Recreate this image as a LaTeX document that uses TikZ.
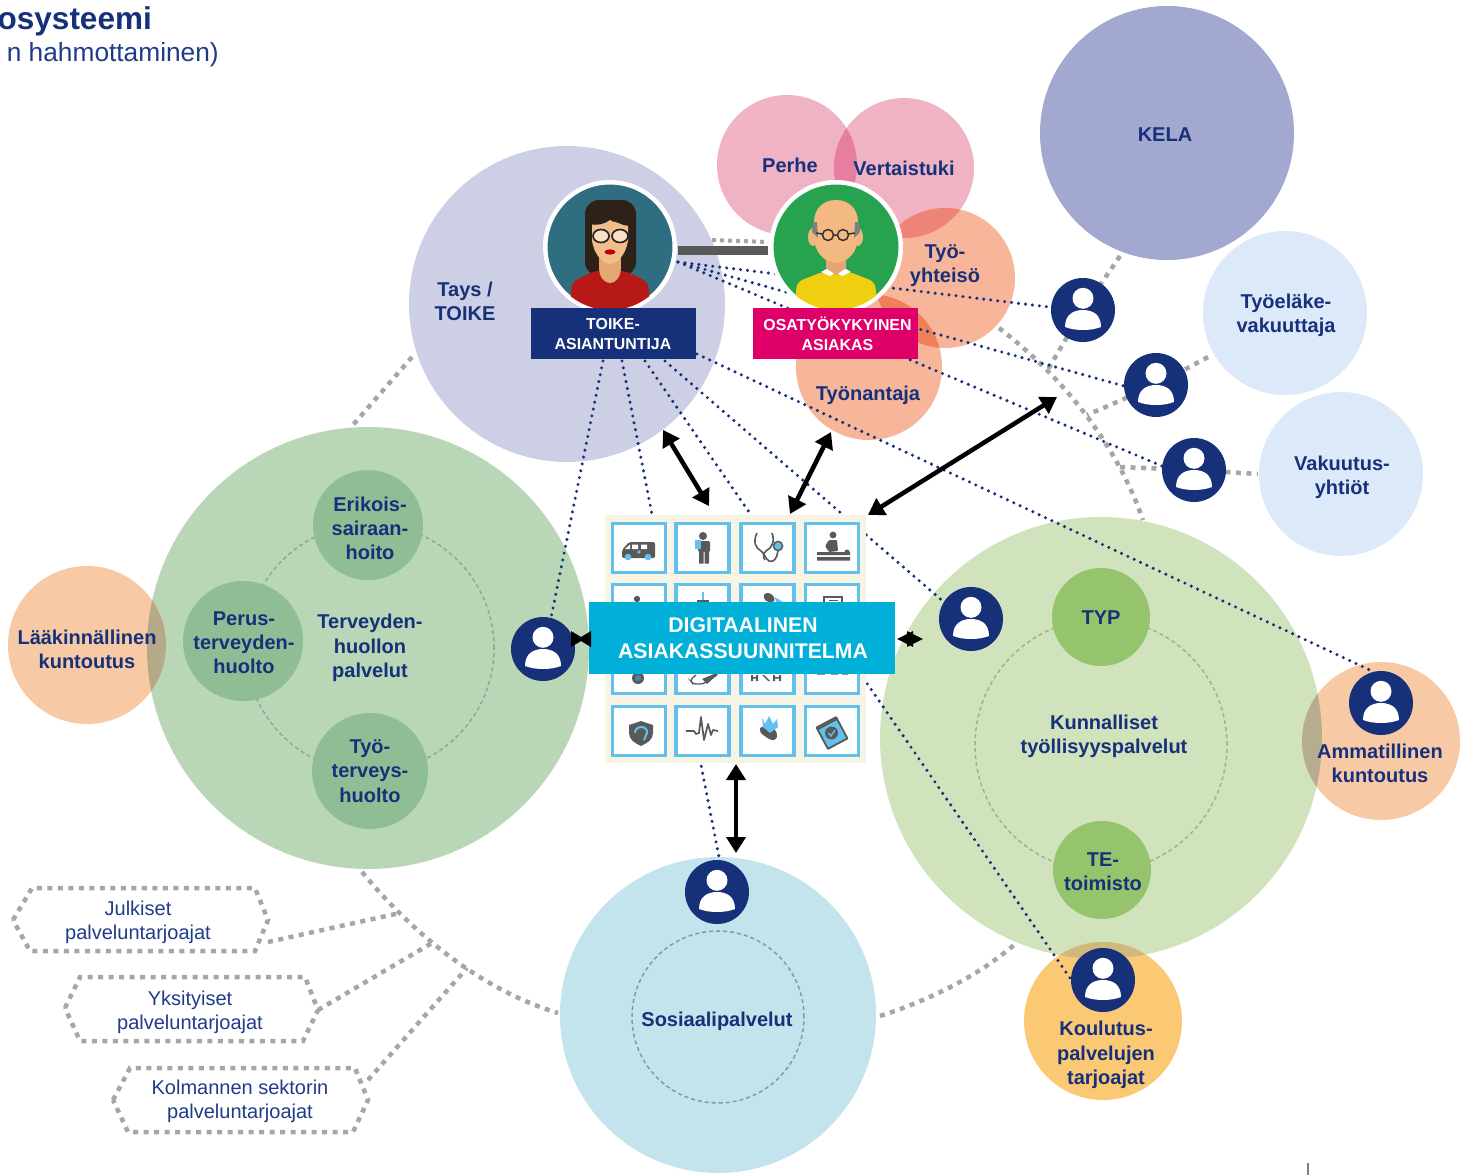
\documentclass[tikz,border=0pt]{standalone}
\usepackage{fontspec}
\setmainfont{Liberation Sans}
\usetikzlibrary{arrows.meta}
\definecolor{navy}{HTML}{16307A}
\definecolor{regblue}{HTML}{1F3C88}
\definecolor{grdot}{HTML}{A6A6A6}
\definecolor{icong}{HTML}{595959}
\definecolor{iconb}{HTML}{62C0EE}
\foreach \h in {A3A8D1,DCE9F8,CDCFE5,F0B3C4,F7B59A,B9D6B6,F8C9A5,D0E3BC,FBC874,C3E3ED,E67E9F,EE8478,F08059,B4AA88,B6AD8E,CFB97C,8FA893,A0B28E,7A9DAD,8FBE94,96C46D,F8F4E4,00B0D8,2F6E80,27A34F,DE0068}{\xglobal\definecolor{c\h}{HTML}{\h}}
\tikzset{
  bub/.style={circle,inner sep=0pt,outer sep=0pt,minimum size=#1},
  lab/.style={text=navy,align=center,inner sep=0pt,font=\fontsize{20}{24.2}\selectfont\bfseries},
  reg/.style={text=regblue,align=center,inner sep=0pt,font=\fontsize{20}{24}\selectfont},
  navline/.style={draw=navy,line width=3.4pt,line cap=round,dash pattern=on 0pt off 7pt},
  greyline/.style={draw=grdot,line width=4.5pt,dash pattern=on 5pt off 5.5pt},
  inring/.style={draw=#1,line width=1.5pt,dash pattern=on 4pt off 3pt},
  dbl/.style={draw=black,line width=4.5pt,{Triangle[width=19pt,length=16pt]}-{Triangle[width=19pt,length=16pt]}},
  iconbox/.style={draw=iconb,line width=3.5pt,fill=white,inner sep=0pt,outer sep=0pt,minimum width=53pt,minimum height=49pt},
  personnode/.style={circle,fill=navy,inner sep=0pt,outer sep=0pt,minimum size=64pt},
  tagbox/.style={inner sep=0pt,outer sep=0pt,minimum width=165pt,minimum height=51pt},
  tagtext/.style={inner sep=0pt,text=white,align=center,font=\fontsize{15.9}{19.6}\selectfont\bfseries},
}
\newcommand{\personicon}[3]{%
  \node[personnode] (#1) at (#2,#3) {};
  \begin{scope}[shift={(#2,#3)}]
    \fill[white] (0,-11.7) circle (10.5pt);
    \fill[white] (-18,17) .. controls (-18,4) and (-9,0) .. (0,0) .. controls (9,0) and (18,4) .. (18,17) .. controls (8,21) and (-8,21) .. (-18,17) -- cycle;
  \end{scope}}
\newcommand{\lensfill}[7]{\begin{scope}\clip (#1,#2) circle (#3pt);\fill[#7] (#4,#5) circle (#6pt);\end{scope}}
\begin{document}
\begin{tikzpicture}[x=1pt,y=-1pt]
\useasboundingbox (0,0) rectangle (1460,1175);
\begin{scope}
\clip (0,0) rectangle (1460,1175);
\node[anchor=base east,inner sep=0pt,text=navy,font=\fontsize{31.5}{33}\selectfont\bfseries] (title1) at (152,29) {osysteemi};
\node[anchor=base east,inner sep=0pt,text=regblue,font=\fontsize{26.3}{28}\selectfont] (title2) at (219,61) {n hahmottaminen)};
\end{scope}

% bubbles
\node[bub=254pt,fill=cA3A8D1] (kela) at (1167,133) {};
\node[bub=164pt,fill=cDCE9F8] (tyoelake) at (1285,313) {};
\node[bub=164pt,fill=cDCE9F8] (vakuutus) at (1341,474) {};
\node[bub=316pt,fill=cCDCFE5] (tays) at (567,304) {};
\node[bub=140pt,fill=cF0B3C4] (perhe) at (787,165) {};
\node[bub=140pt,fill=cF0B3C4] (vertais) at (904,168) {};
\node[bub=140pt,fill=cF7B59A] (tyoyht) at (945,278) {};
\node[bub=146pt,fill=cF7B59A] (tyonant) at (869,367) {};
\node[bub=442pt,fill=cB9D6B6] (lgreen) at (368,648) {};
\node[bub=158pt,fill=cF8C9A5] (laak) at (87,645) {};
\node[bub=442pt,fill=cD0E3BC] (rgreen) at (1101,738) {};
\node[bub=158pt,fill=cF8C9A5] (amm) at (1381,741) {};
\node[bub=158pt,fill=cFBC874] (koul) at (1103,1021) {};
\node[bub=316pt,fill=cC3E3ED] (sos) at (718,1015) {};
% overlaps
\lensfill{787}{165}{70}{904}{168}{70}{fill=cE67E9F}
\lensfill{904}{168}{70}{945}{278}{70}{fill=cEE8478}
\lensfill{945}{278}{70}{869}{367}{73}{fill=cF08059}
\lensfill{368}{648}{221}{87}{645}{79}{fill=cB4AA88}
\lensfill{1101}{738}{221}{1381}{741}{79}{fill=cB6AD8E}
\lensfill{1101}{738}{221}{1103}{1021}{79}{fill=cCFB97C}
% inner rings
\node[bub=248pt,inring=c8FA893] (ringL) at (370,648) {};
\node[bub=252pt,inring=cA0B28E] (ringR) at (1101,745) {};
\node[bub=172pt,inring=c7A9DAD] (ringS) at (718,1017) {};
\node[bub=110pt,fill=c8FBE94] (eri) at (368,525) {};
\node[bub=120pt,fill=c8FBE94] (per) at (243,641) {};
\node[bub=116pt,fill=c8FBE94] (tyt) at (370,771) {};
\node[bub=98pt,fill=c96C46D] (typ) at (1101,617) {};
\node[bub=98pt,fill=c96C46D] (tet) at (1102,870) {};

% free ends of the links at the person icons
\path (1083,310) coordinate (q1) (1156,385) coordinate (q2) (1194,470) coordinate (q3)
      (1053,307.5) coordinate (w1) (1124,386) coordinate (w2) (1162,466) coordinate (w3)
      (945,603) coordinate (w4) (551,618) coordinate (w5) (720,862) coordinate (w6)
      (1374,672) coordinate (w7) (1072,981) coordinate (w8);

% grey links
\coordinate (gT) at (412,357); \coordinate (gL) at (353,425);
\draw[greyline] (gT) -- (gL);
\coordinate (g1) at (362,872); \coordinate (g2) at (400,913); \coordinate (g3) at (432,943); \coordinate (g4) at (467,968); \coordinate (g5) at (558,1013);
\draw[greyline] (g1) .. controls (395,912) and (465,985) .. (g5);
\draw[greyline] (13,920) -- (32,888) -- (255,888) -- (268,920) -- (255,951) -- (30,951) -- cycle;
\draw[greyline] (65,1008) -- (80,977) -- (305,977) -- (318,1010) -- (303,1041) -- (80,1041) -- cycle;
\draw[greyline] (113,1100) -- (130,1068) -- (355,1068) -- (368,1100) -- (353,1132) -- (128,1132) -- cycle;
\node[reg] (hexJ) at (138,922.5) {Julkiset\\palveluntarjoajat};
\node[reg] (hexY) at (190,1012) {Yksityiset\\palveluntarjoajat};
\node[reg] (hexK) at (240,1101) {Kolmannen sektorin\\palveluntarjoajat};
\coordinate (hJ) at (268,942); \coordinate (hY) at (318,1010); \coordinate (hK) at (368,1080);
\draw[greyline] (hJ) -- (g2);
\draw[greyline] (hY) -- (g3);
\draw[greyline] (hK) -- (g4);
\coordinate (gS) at (880,1016); \coordinate (gR) at (1015,944);
\draw[greyline] (gS) .. controls (930,1000) and (980,975) .. (gR);
\coordinate (gy) at (999,328); \coordinate (gb) at (1143,520); \coordinate (ga) at (1047,371); \coordinate (gc) at (1087,415); \coordinate (gd) at (1120,467);
\draw[greyline] (gy) .. controls (1060,375) and (1115,440) .. (gb);
\coordinate (gk) at (1120,256);
\draw[greyline] (gk) -- (q1);
\draw[greyline] (q1) -- (ga);
\draw[greyline] (q2) -- (gc);
\coordinate (gtl) at (1208,357);
\draw[greyline] (gtl) -- (q2);
\draw[greyline] (gd) -- (q3);
\coordinate (gv) at (1258,474);
\draw[greyline] (q3) -- (gv);

% navy dotted links
\coordinate (n0) at (678,262);
\coordinate (n1) at (603,361); \coordinate (n2) at (622,361); \coordinate (n3) at (645,361); \coordinate (n4) at (665,361); \coordinate (n5) at (697,354);
\draw[navline] (n0) -- (w1);
\draw[navline] (n0) -- (w2);
\draw[navline] (n0) -- (w3);
\draw[navline] (n5) -- (w7);
\draw[navline] (n1) -- (w5);
\draw[navline] (n2) -- (w6);
\draw[navline] (n3) -- (w8);
\draw[navline] (n4) -- (w4);

% board
\node[fill=cF8F4E4,inner sep=0pt,outer sep=0pt,minimum width=261pt,minimum height=248pt] (board) at (735.5,639) {};
\foreach \nm/\cx in {a/639,b/702.5,c/767.5,d/832}{
  \foreach \rw/\cy in {1/548,2/609,3/669,4/731}{
    \node[iconbox] (ic\nm\rw) at (\cx,\cy) {};
  }}
% row 1 icons
\fill[icong,rounded corners=2pt] (622,558) -- (622,550) -- (629,542) -- (655,542) -- (655,558) -- cycle;
\fill[white] (632,544.5) rectangle (638,549) (641,544.5) rectangle (647,549) (625,549) -- (630,544.5) -- (630,549) -- cycle;
\fill[iconb] (628,557) circle (3.3pt) (648,557) circle (3.3pt) (639,552) circle (1.8pt);
\fill[icong] (703,536) circle (4pt);
\fill[icong,rounded corners=1.5pt] (698,541) rectangle (710,552);
\fill[icong] (699,551) rectangle (703.5,563.5) (704.5,551) rectangle (709,563.5);
\fill[iconb] (695,540) rectangle (701,549);
\draw[icong,line width=1.6pt] (757,533) .. controls (753,541) and (755,548) .. (761,551) .. controls (764,553) and (765,558) .. (769,561) .. controls (774,563) and (777,558) .. (778,551);
\draw[icong,line width=1.6pt] (772,533) .. controls (775,541) and (772,548) .. (766,551) .. controls (763,553) and (763,558) .. (765,560);
\draw[icong,line width=1.5pt,fill=iconb] (778,546) circle (4.6pt);
\fill[icong] (833,535) circle (3.4pt);
\fill[icong,rounded corners=1pt] (829,540) -- (837,540) -- (838,551) -- (829,552) -- (825,546) -- cycle;
\fill[icong] (817,552) rectangle (850,555) (817,557) rectangle (850,560.5);
\fill[icong] (847,552) circle (2.5pt);
% row 2 icon tops
\fill[icong] (637,599) circle (3.2pt) (634.5,602) rectangle (639.5,606);
\fill[iconb] (701.5,592) rectangle (704,602);
\fill[icong] (697,600) rectangle (709,602.5);
\fill[icong,rounded corners=4pt] (763,593) -- (772,593) -- (776,602) -- (765,602) -- cycle;
\fill[iconb] (775,597) -- (783,602) -- (776,602) -- cycle;
\draw[icong,line width=1.3pt] (824,597) rectangle (842,606);
\draw[icong,line width=1pt] (829,600) -- (838,600);
% row 3 icon bottoms
\fill[icong] (638,678) circle (6pt);
\fill[iconb!70!black] (638,678) circle (3pt);
\draw[icong,line width=1.3pt,rounded corners=3pt] (696,675) -- (690,680) -- (693,684) -- (703,684) -- (717,675);
\fill[icong] (702,679) -- (714,674) -- (718,674) -- (707,684) -- cycle;
\fill[icong] (751,675) rectangle (753,681) (756,675) rectangle (758,681) (762,675) -- (764,675) -- (770,681) -- (768,681) -- cycle (773,675) rectangle (775,681) (779,675) rectangle (781,681) (751,677) rectangle (758,678.5) (773,677) rectangle (781,678.5);
\fill[icong] (817,673) rectangle (825,674.5) (831,673) rectangle (838,674.5) (842,673) rectangle (848,674.5);
% row 4 icons
\fill[icong] (629,725) -- (641,721) -- (653,725) -- (653,733) .. controls (653,740) and (647,743) .. (641,746) .. controls (635,743) and (629,740) .. (629,733) -- cycle;
\draw[iconb,line width=2pt] (635,733) .. controls (635,725) and (648,725) .. (647,733) -- (644,740);
\draw[icong,line width=1.7pt,line join=round] (686,731) -- (694,731) -- (696,734) -- (699,733) -- (701,717) -- (704,740) -- (708,724) -- (711,735) -- (713,730) -- (718,731);
\fill[icong] (760,728) .. controls (770,722) and (778,730) .. (777,737) .. controls (775,742) and (770,740) .. (766,737) .. controls (760,733) and (759,731) .. (760,728) -- cycle;
\fill[iconb] (762,718) -- (765,724) -- (769,716) -- (773,724) -- (777,719) -- (778,727) -- (770,733) -- (763,727) -- cycle;
\fill[icong,rotate around={28:(832,733)},rounded corners=1pt] (820,720) rectangle (844,746);
\fill[iconb,rotate around={28:(832,733)}] (822,724) rectangle (842,744);
\fill[icong] (831.5,733) circle (6.5pt);
\draw[iconb,line width=1.4pt] (828.5,733) -- (831,736) -- (835,730);

% banner
\node[fill=c00B0D8,inner sep=0pt,outer sep=0pt,minimum width=306pt,minimum height=72pt] (banner) at (742,638) {};
\node[inner sep=0pt,text=white,align=center,font=\fontsize{21.2}{26}\selectfont\bfseries] (bannerText) at (743,638.5) {DIGITAALINEN\\ASIAKASSUUNNITELMA};

% persons
\personicon{p1}{1083}{310}
\personicon{p2}{1156}{385}
\personicon{p3}{1194}{470}
\personicon{p4}{971}{619}
\personicon{p5}{543}{649}
\personicon{p6}{717}{892}
\personicon{p7}{1381}{703}
\personicon{p8}{1103}{980}

% thick link between avatars
\coordinate (bar1) at (678,250); \coordinate (bar2) at (768,250); \coordinate (bd1) at (712,240); \coordinate (bd2) at (768,242);
\draw[icong,line width=9pt] (bar1) -- (bar2);
\draw[greyline,line width=4pt,dash pattern=on 4pt off 4pt] (bd1) -- (bd2);

% avatars
\node[bub=129.5pt,fill=c2F6E80,draw=white,line width=4.5pt] (avT) at (610,247) {};
\begin{scope}
\clip (610,247) circle (63pt);
\fill[fill={rgb,255:red,46;green,33;blue,24},rounded corners=14pt] (585,276) -- (585,200) -- (636,200) -- (636,276) -- cycle;
\fill[fill={rgb,255:red,183;green,26;blue,22},rounded corners=6pt] (568,325) -- (572,282) -- (594,271) -- (626,271) -- (648,282) -- (652,325) -- cycle;
\fill[fill={rgb,255:red,228;green,168;blue,114}] (599,240) rectangle (621,270);
\fill[fill={rgb,255:red,228;green,168;blue,114}] (599,268) .. controls (600,288) and (620,288) .. (621,268) -- cycle;
\fill[fill={rgb,255:red,242;green,190;blue,140}] (592,222) -- (592,240) .. controls (594,256) and (604,264) .. (610,264) .. controls (616,264) and (626,256) .. (628,240) -- (628,222) .. controls (620,224) and (612,222) .. (610,220) .. controls (606,224) and (598,224) .. (592,222) -- cycle;
\fill[fill={rgb,255:red,46;green,33;blue,24}] (589,224) .. controls (598,226) and (606,224) .. (611,218) .. controls (616,222) and (622,226) .. (632,226) -- (632,215) -- (589,215) -- cycle;
\draw[fill={rgb,255:red,250;green,225;blue,200},draw=black!85,line width=1.7pt] (601,236) ellipse (8pt and 6.5pt) (620,236) ellipse (8pt and 6.5pt);
\fill[red!75!black] (610,252) ellipse (5.5pt and 2.6pt);
\end{scope}

\node[bub=129.5pt,fill=c27A34F,draw=white,line width=4.5pt] (avA) at (836,247) {};
\begin{scope}
\clip (836,247) circle (63pt);
\fill[fill={rgb,255:red,240;green,206;blue,18},rounded corners=6pt] (793,325) -- (797,282) -- (822,272) -- (850,272) -- (875,282) -- (879,325) -- cycle;
\fill[white] (821,272) -- (832,266) -- (841,266) -- (851,272) -- (842,276) -- (836,272) -- (830,276) -- cycle;
\fill[fill={rgb,255:red,226;green,165;blue,115}] (826,250) -- (846,250) -- (846,268) -- (836,275) -- (826,268) -- cycle;
\fill[fill={rgb,255:red,240;green,180;blue,128}] (813,237) ellipse (5pt and 9pt) (858,237) ellipse (5pt and 9pt);
\fill[fill={rgb,255:red,244;green,184;blue,130}] (814,222) .. controls (814,208) and (824,200) .. (836,200) .. controls (848,200) and (858,208) .. (858,222) -- (858,240) .. controls (856,256) and (844,263) .. (836,263) .. controls (828,263) and (816,256) .. (814,240) -- cycle;
\fill[gray] (813,222) -- (817,222) -- (818,238) -- (812,232) -- cycle (859,222) -- (855,222) -- (854,238) -- (860,232) -- cycle;
\draw[draw=black!80,line width=1.5pt] (828,235) circle (5.5pt) (843,235) circle (5.5pt) (833.5,235) -- (837.5,235) (822.5,234) -- (816,233) (848.5,234) -- (855,233);
\end{scope}

% tags
\node[tagbox,fill=navy] (tagT) at (613.5,333.5) {};
\node[tagtext] (tagTtext) at (613,334) {TOIKE-\\ASIANTUNTIJA};
\node[tagbox,fill=cDE0068] (tagA) at (835.5,333.5) {};
\node[tagtext] (tagAtext) at (837.5,334) {OSATYÖKYKYINEN\\ASIAKAS};

% arrows
\coordinate (a1) at (663,430); \coordinate (a2) at (709,506);
\coordinate (b1) at (831,432); \coordinate (b2) at (790,514);
\coordinate (c1) at (1057,397); \coordinate (c2) at (868,515);
\coordinate (d1) at (736,764); \coordinate (d2) at (736,853);
\coordinate (e1) at (897,639); \coordinate (e2) at (923,639);
\draw[dbl] (a1) -- (a2);
\draw[dbl] (b1) -- (b2);
\draw[dbl] (c1) -- (c2);
\draw[dbl] (d1) -- (d2);
\draw[draw=black,line width=3pt,{Triangle[width=15pt,length=16pt]}-{Triangle[width=15pt,length=16pt]}] (e1) -- (e2);
\fill[black] (571,631) -- (571,647) -- (581,641) -- (591,647) -- (591,631) -- (581,637) -- cycle;

% texts
\node[lab] (tKela) at (1165,135) {KELA};
\node[lab] (tEl) at (1286,315.5) {Työeläke-\\vakuuttaja};
\node[lab] (tVak) at (1342,477) {Vakuutus-\\yhtiöt};
\node[lab] (tPer) at (790,165) {Perhe};
\node[lab] (tVer) at (904,168) {Vertaistuki};
\node[lab] (tYht) at (945,266) {Työ-\\yhteisö};
\node[lab] (tAnt) at (868,395.5) {Työnantaja};
\node[lab] (tTays) at (465,301) {Tays /\\TOIKE};
\node[lab] (tEri) at (370,528.5) {Erikois-\\sairaan-\\hoito};
\node[lab] (tPerus) at (244,643) {Perus-\\terveyden-\\huolto};
\node[lab] (tTerv) at (370,648) {Terveyden-\\huollon\\palvelut};
\node[lab] (tTyo) at (370,771) {Työ-\\terveys-\\huolto};
\node[lab] (tLaak) at (87,649) {Lääkinnällinen\\kuntoutus};
\node[lab] (tTyp) at (1101,618) {TYP};
\node[lab] (tKun) at (1104,736) {Kunnalliset\\työllisyyspalvelut};
\node[lab] (tTe) at (1103,872) {TE-\\toimisto};
\node[lab] (tAmm) at (1380,763) {Ammatillinen\\kuntoutus};
\node[lab] (tKou) at (1106,1055) {Koulutus-\\palvelujen\\tarjoajat};
\node[lab] (tSos) at (717,1021) {Sosiaalipalvelut};
\coordinate (tk1) at (1308,1163); \coordinate (tk2) at (1308,1175);
\draw[gray,line width=1.2pt] (tk1) -- (tk2);
\end{tikzpicture}
\end{document}
